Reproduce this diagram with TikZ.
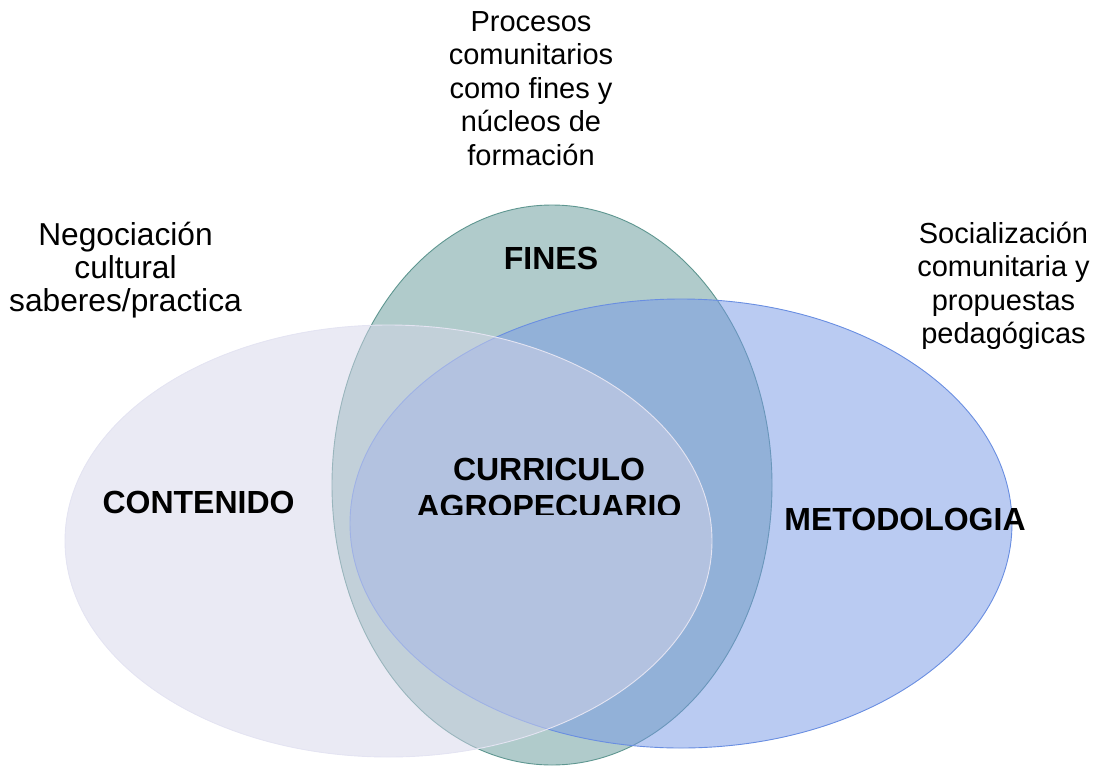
\documentclass[tikz,border=0pt]{standalone}
\usepackage{fontspec}
\setmainfont{Liberation Sans}
\usetikzlibrary{shapes.geometric}
\definecolor{finesfill}{RGB}{97,151,151}
\definecolor{finesline}{RGB}{94,150,144}
\definecolor{metofill}{RGB}{117,151,229}
\definecolor{metoline}{RGB}{105,142,225}
\definecolor{contfill}{RGB}{213,213,233}
\definecolor{contline}{RGB}{228,228,242}
\tikzset{
  venn/.style={ellipse, inner sep=0pt, fill opacity=0.5, line width=0.9pt},
  head/.style={font=\fontsize{32}{37}\selectfont\bfseries, inner sep=0pt, align=center, text=black},
  note/.style={font=\fontsize{29}{33.5}\selectfont, inner sep=0pt, anchor=north, align=center, text=black},
}
\begin{document}
\begin{tikzpicture}[x=1pt,y=-1pt]
\useasboundingbox (0,0) rectangle (1095,766);
% sets
\node[venn, fill=finesfill, draw=finesline, minimum width=440pt, minimum height=560pt] (fines) at (552,485) {};
\node[venn, fill=metofill, draw=metoline, minimum width=662pt, minimum height=449pt] (meto) at (681,523.5) {};
\node[venn, fill=contfill, draw=contline, minimum width=647pt, minimum height=432pt] (cont) at (388.5,541) {};
% set labels
\node[head, anchor=base] (finesl) at (551,269) {FINES};
\node[head, anchor=base] (contl) at (198.5,513) {CONTENIDO};
\node[head, anchor=base] (metol) at (905,530) {METODOLOGIA};
\begin{scope}
  \clip (300,440) rectangle (800,514);
  \node[head, anchor=north] (curr) at (549,458) {CURRICULO\\AGROPECUARIO};
\end{scope}
% notes
\node[note] (procesos) at (531,11) {Procesos\\comunitarios\\como fines y\\núcleos de\\formación};
\node[note, font=\fontsize{31.7}{33}\selectfont] (negoc) at (125.5,222) {Negociación\\cultural\\saberes/practica};
\node[note] (social) at (1003.5,221.5) {Socialización\\comunitaria y\\propuestas\\pedagógicas};
\end{tikzpicture}
\end{document}
